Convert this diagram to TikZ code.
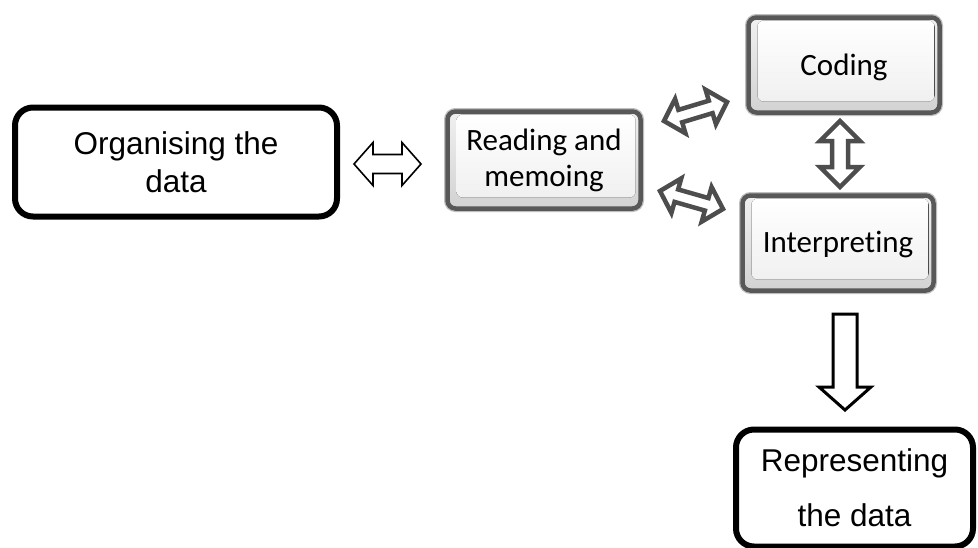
\documentclass[tikz,border=0pt]{standalone}
\usepackage{fontspec}
\setmainfont{Liberation Sans}
\newfontfamily\carlitofont[Ligatures=NoCommon]{Carlito}
\usetikzlibrary{calc}

\definecolor{bevelborder}{HTML}{585858}
\definecolor{arrowgrey}{HTML}{4D4D4D}
\definecolor{facelow}{HTML}{F0F0F0}
\definecolor{rimlight}{HTML}{F0F0F0}
\definecolor{rimdark}{HTML}{D2D2D2}

% double block arrow between two named points:
% #1 style, #2 from, #3 to, #4 head length, #5 half head width, #6 half shaft width
\newcommand\dblblock[6]{%
  \draw[#1] let \p1=($(#3)-(#2)$), \n1={atan2(\y1,\x1)}, \n2={veclen(\x1,\y1)} in
    [shift={(#2)}, rotate=\n1]
    (0pt,0pt) -- (#4pt,#5pt) -- (#4pt,#6pt) -- ({\n2-#4pt},#6pt) -- ({\n2-#4pt},#5pt)
    -- ({\n2+0pt},0pt) -- ({\n2-#4pt},-#5pt) -- ({\n2-#4pt},-#6pt) -- (#4pt,-#6pt)
    -- (#4pt,-#5pt) -- cycle;
}
% single block arrow with a flat tail
\newcommand\sglblock[6]{%
  \draw[#1] let \p1=($(#3)-(#2)$), \n1={atan2(\y1,\x1)}, \n2={veclen(\x1,\y1)} in
    [shift={(#2)}, rotate=\n1]
    (0pt,#6pt) -- ({\n2-#4pt},#6pt) -- ({\n2-#4pt},#5pt) -- ({\n2+0pt},0pt)
    -- ({\n2-#4pt},-#5pt) -- ({\n2-#4pt},-#6pt) -- (0pt,-#6pt) -- cycle;
}
% one line of text whose baseline sits #1 below the node centre
\newcommand\baselineat[2]{\raisebox{-#1}[0pt][0pt]{#2}}

\tikzset{
  plainbox/.style={draw=black, line width=6pt, rounded corners=18pt, fill=white,
    inner sep=0pt, outer sep=0pt, align=center},
  bevelbox/.style={draw=bevelborder, line width=4.5pt, rounded corners=8pt,
    inner sep=0pt, outer sep=0pt, align=center,
    font=\carlitofont\fontsize{31}{36}\selectfont,
    preaction={draw=black!25, line width=7pt},
    path picture={
      \fill[top color=rimlight, bottom color=rimdark]
        (path picture bounding box.south west) rectangle (path picture bounding box.north east);
      \fill[rounded corners=6pt, top color=white, bottom color=facelow]
        ([xshift=9pt,yshift=-3pt]path picture bounding box.north west)
        rectangle ([xshift=-5pt,yshift=11pt]path picture bounding box.south east);
    }},
  greyarrow/.style={draw=arrowgrey, line width=4.5pt, fill=white},
  blackarrow/.style={draw=black, fill=white}
}

\begin{document}
\begin{tikzpicture}[x=1pt, y=-1pt]
  \useasboundingbox[fill=white] (0,0) rectangle (978,547);

  % boxes
  \node[plainbox, minimum width=322pt, minimum height=109pt,
        font=\fontsize{31.5}{38}\selectfont] (org) at (176,162) {Organising the\\data};
  \node[bevelbox, minimum width=193pt, minimum height=97pt] (read) at (544,160) {Reading and\\memoing};
  \node[bevelbox, minimum width=191pt, minimum height=95pt] (code) at (844,65) {\baselineat{10pt}{Coding}};
  \node[bevelbox, minimum width=191pt, minimum height=95pt] (interp) at (838,243) {\baselineat{9pt}{Interpreting}};
  \node[plainbox, minimum width=237pt, minimum height=117pt,
        font=\fontsize{31.5}{55}\selectfont] (repr) at (854.5,488) {Representing\\the data};

  % arrow end points
  \coordinate (orgR) at (354,164);
  \coordinate (readL) at (421,164);
  \coordinate (readNE) at (664,121);
  \coordinate (codeW) at (727,102);
  \coordinate (readSE) at (660,191);
  \coordinate (interpW) at (723,209);
  \coordinate (codeS) at (840,121);
  \coordinate (interpN) at (840,187);
  \coordinate (interpS) at (845,314);
  \coordinate (reprN) at (845,410);

  % connectors
  \dblblock{blackarrow, line width=1.6pt}{orgR}{readL}{19}{21.5}{9.5}
  \dblblock{greyarrow}{readNE}{codeW}{17}{18}{6.5}
  \dblblock{greyarrow}{readSE}{interpW}{17}{18}{6.5}
  \dblblock{greyarrow}{codeS}{interpN}{20}{20}{8}
  \sglblock{blackarrow, line width=3pt}{interpS}{reprN}{23}{26}{12}
\end{tikzpicture}
\end{document}
